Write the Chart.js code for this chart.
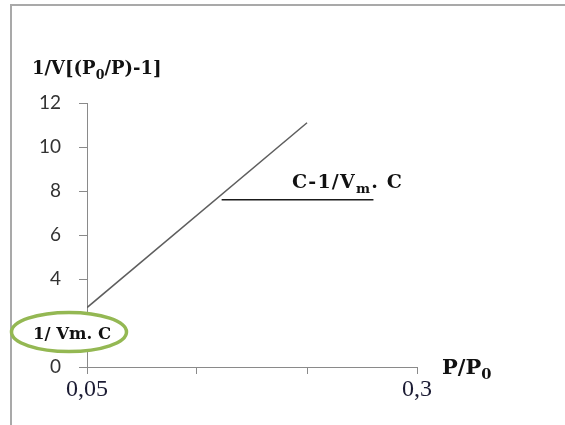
<!DOCTYPE html>
<html>
<head>
<meta charset="utf-8">
<script src="https://cdn.jsdelivr.net/npm/chart.js@4"></script>
<style>
  body { margin: 0; background: #fff; }
  canvas { display: block; }
</style>
</head>
<body>
<canvas id="betChart" width="565" height="425"></canvas>
<script>
// values
const xTicks = [0.05, 0.1333, 0.2167, 0.3];
const xTickLabels = ["0,05", "", "", "0,3"];
const yTicks = [0, 2, 4, 6, 8, 10, 12];

const betX = [0.05, 0.2167];
const betY = [2.7, 11.1];

const slopeX = [0.152, 0.267];
const slopeY = [7.6, 7.6];

const toPoints = (xs, ys) => xs.map((x, i) => ({ x: x, y: ys[i] }));

// text with subscripts, parts = [[text, isSub], ...]
function drawRich(ctx, parts, x, y, size, align, spacing) {
    ctx.save();
    ctx.textBaseline = "alphabetic";
    ctx.textAlign = "left";
    ctx.letterSpacing = (spacing || 0) + "px";
    let total = 0;
    parts.forEach(p => {
        ctx.font = "bold " + (p[1] ? size * 0.7 : size) + "px 'DejaVu Serif'";
        total += ctx.measureText(p[0]).width;
    });
    let cx = align === "center" ? x - total / 2 : x;
    parts.forEach(p => {
        ctx.font = "bold " + (p[1] ? size * 0.7 : size) + "px 'DejaVu Serif'";
        ctx.fillText(p[0], cx, p[1] ? y + size * 0.25 : y);
        cx += ctx.measureText(p[0]).width;
    });
    ctx.restore();
}

const decorPlugin = {
    id: "decor",
    beforeDraw(chart) {
        const ctx = chart.ctx;
        ctx.save();
        ctx.strokeStyle = "#a9a9a9";
        ctx.lineWidth = 2;
        ctx.beginPath();
        ctx.moveTo(11, 425);
        ctx.lineTo(11, 5);
        ctx.lineTo(565, 5);
        ctx.stroke();
        ctx.restore();
    },
    afterDraw(chart) {
        const ctx = chart.ctx;
        ctx.fillStyle = "#111";
        drawRich(ctx, [["1/V[(P", false], ["0", true], ["/P)-1]", false]], 32, 74, 18);
        drawRich(ctx, [["C-1/V", false], ["m", true], [". C", false]], 292, 188, 19, "left", 1.2);
        drawRich(ctx, [["P/P", false], ["0", true]], 442, 374, 21);

        ctx.save();
        ctx.beginPath();
        ctx.ellipse(69, 332, 57.5, 19.5, 0, 0, Math.PI * 2);
        ctx.fillStyle = "#fff";
        ctx.fill();
        ctx.lineWidth = 3.5;
        ctx.strokeStyle = "#94b853";
        ctx.stroke();
        ctx.restore();
        ctx.fillStyle = "#111";
        drawRich(ctx, [["1/ Vm. C", false]], 72, 339, 16.5, "center");
    }
};

new Chart(document.getElementById("betChart"), {
    type: "scatter",
    data: {
        datasets: [{
            data: toPoints(betX, betY),
            showLine: true,
            borderColor: "#5e5e5e",
            borderWidth: 1.5,
            pointRadius: 0
        }, {
            data: toPoints(slopeX, slopeY),
            showLine: true,
            borderColor: "#1a1a1a",
            borderWidth: 1.5,
            pointRadius: 0
        }]
    },
    options: {
        responsive: false,
        animation: false,
        layout: { padding: { left: 0, top: 103, right: 148, bottom: 0 } },
        plugins: { legend: { display: false }, tooltip: { enabled: false } },
        scales: {
            x: {
                type: "linear",
                min: 0.05,
                max: 0.3,
                afterBuildTicks: axis => { axis.ticks = xTicks.map(v => ({ value: v })); },
                afterFit: s => { s.height = 58; },
                ticks: {
                    autoSkip: false,
                    maxRotation: 0,
                    padding: 1,
                    color: "#1b1b33",
                    font: { family: "'Liberation Serif'", size: 24 },
                    callback: (v, i) => xTickLabels[i]
                },
                grid: { drawOnChartArea: false, tickLength: 7, color: "#8a8a8a" },
                border: { color: "#8a8a8a" }
            },
            y: {
                min: 0,
                max: 12,
                afterBuildTicks: axis => { axis.ticks = yTicks.map(v => ({ value: v })); },
                afterFit: s => { s.width = 87; },
                ticks: {
                    padding: 18,
                    color: "#333",
                    font: { family: "Lato", size: 19 }
                },
                grid: { drawOnChartArea: false, tickLength: 8, color: "#8a8a8a" },
                border: { color: "#8a8a8a" }
            }
        }
    },
    plugins: [decorPlugin]
});
</script>
</body>
</html>
